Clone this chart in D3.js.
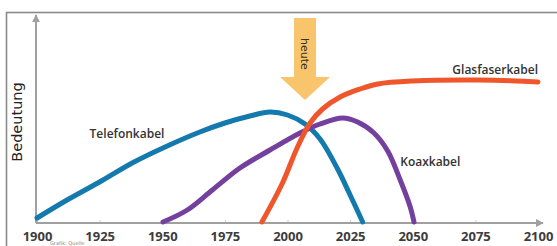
<!DOCTYPE html>
<html>
<head>
<meta charset="utf-8">
<script src="https://cdn.jsdelivr.net/npm/d3@7"></script>
<style>
body { margin: 0; background: #fff; }
svg { display: block; }
.lbl { font-family: "Open Sans", "DejaVu Sans", sans-serif; font-weight: 600; fill: #333; }
.tick text { font-family: "Open Sans", "DejaVu Sans", sans-serif; font-weight: 700; font-size: 13px; fill: #3c3c3c; }
</style>
</head>
<body>
<div id="chart"></div>
<script>
// tick labels on the time axis
const years = [1900, 1925, 1950, 1975, 2000, 2025, 2050, 2075, 2100]

// Telefonkabel (blue)
const telefonYear  = [1900, 1912, 1925, 1938, 1952, 1965, 1975, 1985, 1993, 2000, 2007, 2013, 2020, 2025, 2030]
const telefonValue = [2.5, 11.5, 20.5, 30, 38.5, 45.5, 50, 53.5, 55.5, 54, 49.5, 42, 27, 14, 0.5]

// Koaxkabel (purple)
const koaxYear  = [1950.3, 1960, 1970, 1981, 1993, 2005, 2013, 2022, 2028, 2034.5, 2040, 2045, 2049, 2050.5]
const koaxValue = [0.5, 6.5, 16.5, 27.5, 36.5, 45, 49.5, 52.5, 50.5, 45, 36, 21.5, 8, 0.5]

// Glasfaserkabel (orange)
const glasYear  = [1989.8, 1998, 2004, 2009, 2014, 2021, 2029, 2036, 2050, 2076, 2100]
const glasValue = [0.5, 20, 38, 50, 57, 63, 67, 69.5, 71, 71.5, 70.5]

const heuteYear = 2007

var width = 557, height = 246

var svg = d3.select("#chart").append("svg")
    .attr("width", width)
    .attr("height", height)

var xScale = d3.scaleLinear().domain([1900, 2100]).range([37, 538])
var yScale = d3.scaleLinear().domain([0, 100]).range([223, 23])

// frame
svg.append("rect")
    .attr("x", 6.5).attr("y", 12.5)
    .attr("width", 560).attr("height", 250)
    .attr("fill", "none")
    .attr("stroke", "#8a8a8a")
    .attr("stroke-width", 1.6)

// arrow marker for the axes
svg.append("defs").append("marker")
    .attr("id", "ah")
    .attr("viewBox", "0 0 10 10")
    .attr("refX", 9).attr("refY", 5)
    .attr("markerWidth", 4).attr("markerHeight", 4)
    .attr("orient", "auto")
  .append("path")
    .attr("d", "M0,0 L10,5 L0,10 z")
    .attr("fill", "#a0a0a0")

// x axis
var xAxis = svg.append("g")
    .attr("transform", "translate(0," + yScale(0) + ")")
    .call(d3.axisBottom(xScale).tickValues(years).tickFormat(d3.format("d")).tickSizeInner(-3).tickSizeOuter(0).tickPadding(9))
xAxis.select(".domain").remove()
xAxis.selectAll(".tick line").attr("stroke", "#ccc")

svg.append("line")
    .attr("x1", 36).attr("x2", 543)
    .attr("y1", yScale(0)).attr("y2", yScale(0))
    .attr("stroke", "#a0a0a0").attr("stroke-width", 2)
    .attr("marker-end", "url(#ah)")

// y axis
svg.append("line")
    .attr("x1", 36).attr("x2", 36)
    .attr("y1", yScale(0)).attr("y2", 15)
    .attr("stroke", "#a0a0a0").attr("stroke-width", 2)
    .attr("marker-end", "url(#ah)")

svg.append("text")
    .attr("transform", "translate(22,122) rotate(-90)")
    .attr("text-anchor", "middle")
    .attr("font-family", "DejaVu Sans, sans-serif")
    .attr("font-size", 14.5)
    .attr("fill", "#222")
    .text("Bedeutung")

// heute arrow
var ax = xScale(heuteYear)
var yTop = yScale(102.5), yNeck = yScale(73), yTip = yScale(61.5)
svg.append("path")
    .attr("d", "M" + (ax - 11) + "," + yTop + " L" + (ax + 11) + "," + yTop +
               " L" + (ax + 11) + "," + yNeck + " L" + (ax + 25) + "," + yNeck +
               " L" + ax + "," + yTip + " L" + (ax - 25) + "," + yNeck +
               " L" + (ax - 11) + "," + yNeck + " z")
    .attr("fill", "#f8c46c")
svg.append("text")
    .attr("transform", "translate(" + (ax - 4) + "," + (yTop + 20) + ") rotate(90)")
    .attr("font-family", "DejaVu Sans, sans-serif")
    .attr("font-size", 11)
    .attr("fill", "#3a3020")
    .text("heute")

// curves
var line = d3.line()
    .x(function(d) { return xScale(d[0]) })
    .y(function(d) { return yScale(d[1]) })
    .curve(d3.curveCatmullRom.alpha(0.5))

function drawSeries(xs, ys, color) {
    svg.append("path")
        .datum(d3.zip(xs, ys))
        .attr("fill", "none")
        .attr("stroke", color)
        .attr("stroke-width", 5)
        .attr("stroke-linecap", "round")
        .attr("d", line)
}
drawSeries(telefonYear, telefonValue, "#1479ad")
drawSeries(koaxYear, koaxValue, "#74409e")
drawSeries(glasYear, glasValue, "#f0562c")

// series labels
svg.append("text").attr("class", "lbl").attr("font-size", 12)
    .attr("x", xScale(1921)).attr("y", yScale(42.5)).text("Telefonkabel")
svg.append("text").attr("class", "lbl").attr("font-size", 12)
    .attr("x", xScale(2100)).attr("y", yScale(74.5)).attr("text-anchor", "end").text("Glasfaserkabel")
svg.append("text").attr("class", "lbl").attr("font-size", 12)
    .attr("x", xScale(2045)).attr("y", yScale(28.5)).text("Koaxkabel")

// tiny source note
svg.append("text")
    .attr("x", 50).attr("y", 245)
    .attr("font-family", "DejaVu Sans, sans-serif")
    .attr("font-size", 5)
    .attr("fill", "#888")
    .text("Grafik: Quelle")
</script>
</body>
</html>
